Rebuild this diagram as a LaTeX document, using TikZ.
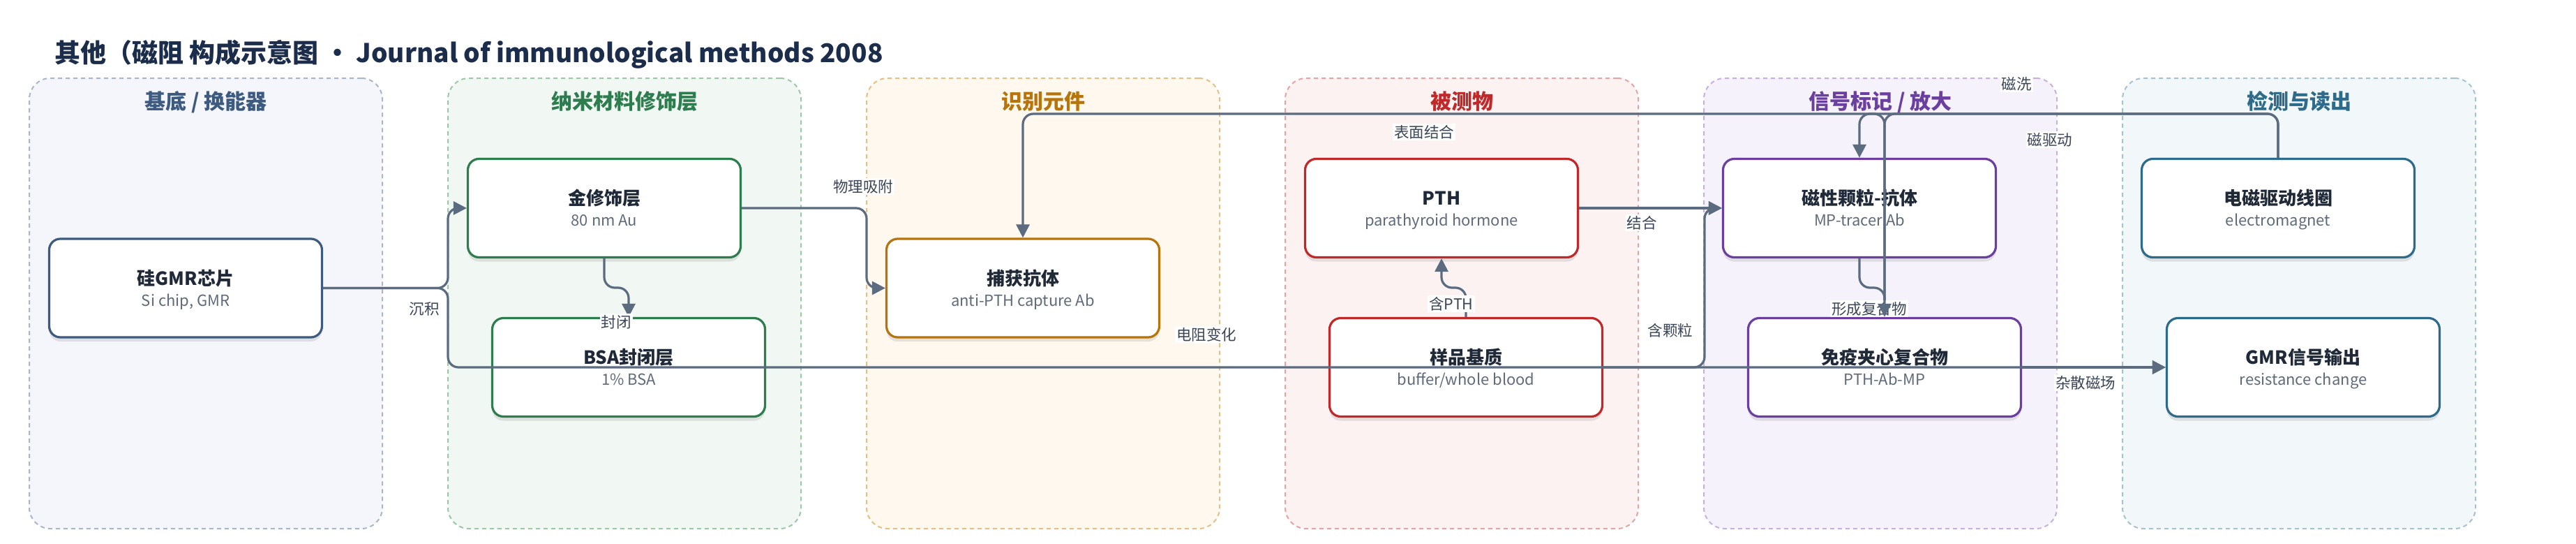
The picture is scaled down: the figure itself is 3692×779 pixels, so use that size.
\documentclass[tikz,border=0pt]{standalone}
\usepackage{fontspec}
\setmainfont{Noto Sans CJK SC}
\usetikzlibrary{arrows.meta,shadows}

\definecolor{ink}{HTML}{1B2D4A}
\definecolor{edgec}{HTML}{5B6B80}
\definecolor{lblc}{HTML}{3A4556}
\definecolor{subc}{HTML}{5F6B7A}
\definecolor{ntc}{HTML}{1F2937}
\definecolor{pAf}{HTML}{F4F6FB}\definecolor{pAd}{HTML}{A9B6CA}\definecolor{pAt}{HTML}{3D5A80}
\definecolor{pBf}{HTML}{F1F8F3}\definecolor{pBd}{HTML}{9CC8A8}\definecolor{pBt}{HTML}{2E7D4F}
\definecolor{pCf}{HTML}{FEF8EE}\definecolor{pCd}{HTML}{E5C084}\definecolor{pCt}{HTML}{B8740A}
\definecolor{pDf}{HTML}{FDF2F2}\definecolor{pDd}{HTML}{E6A3A3}\definecolor{pDt}{HTML}{C0282A}
\definecolor{pEf}{HTML}{F6F2FB}\definecolor{pEd}{HTML}{C6B0E0}\definecolor{pEt}{HTML}{6B3FA0}
\definecolor{pFf}{HTML}{F2F7F9}\definecolor{pFd}{HTML}{A5C2CE}\definecolor{pFt}{HTML}{2E6B8A}

\tikzset{
  panelbox/.style={rounded corners=30pt, dash pattern=on 6pt off 5pt, line width=2pt,
    minimum width=506pt, minimum height=645pt, inner sep=0pt},
  ptitle/.style={font=\fontsize{30}{36}\selectfont\bfseries, anchor=base, inner sep=0pt},
  nbox/.style={draw=#1, fill=white, line width=3.2pt, rounded corners=16pt,
    minimum width=391pt, minimum height=141pt, inner sep=0pt,
    drop shadow={shadow xshift=0pt, shadow yshift=-6pt, opacity=0.16, fill=black!60}},
  ntitle/.style={font=\fontsize{26}{30}\selectfont\bfseries, text=ntc, anchor=base, inner sep=0pt},
  nsub/.style={font=\fontsize{22}{26}\selectfont, text=subc, anchor=base, inner sep=0pt},
  edge/.style={draw=edgec, line width=3.2pt, rounded corners=15pt,
    -{Triangle[length=19pt,width=19pt]}},
  elabel/.style={fill=white, inner sep=2pt, font=\fontsize{21.5}{24}\selectfont, text=lblc}
}

\begin{document}
\begin{tikzpicture}[x=1pt,y=-1pt]
\useasboundingbox (0,0) rectangle (3692,779);

% title
\node[anchor=base west, font=\fontsize{37}{44}\selectfont\bfseries, text=ink, inner sep=0pt] (title) at (78,89)
  {其他（磁阻 构成示意图 · Journal of immunological methods 2008};

% panels
\node[panelbox, fill=pAf, draw=pAd] (P1) at (295,434.5) {};
\node[panelbox, fill=pBf, draw=pBd] (P2) at (895,434.5) {};
\node[panelbox, fill=pCf, draw=pCd] (P3) at (1495,434.5) {};
\node[panelbox, fill=pDf, draw=pDd] (P4) at (2095,434.5) {};
\node[panelbox, fill=pEf, draw=pEd] (P5) at (2695,434.5) {};
\node[panelbox, fill=pFf, draw=pFd] (P6) at (3295,434.5) {};
\node[ptitle, text=pAt] (P1t) at (295,156.5) {基底 / 换能器};
\node[ptitle, text=pBt] (P2t) at (895,156.5) {纳米材料修饰层};
\node[ptitle, text=pCt] (P3t) at (1495,156.5) {识别元件};
\node[ptitle, text=pDt] (P4t) at (2095,156.5) {被测物};
\node[ptitle, text=pEt] (P5t) at (2695,156.5) {信号标记 / 放大};
\node[ptitle, text=pFt] (P6t) at (3295,156.5) {检测与读出};

% nodes
\node[nbox=pAt] (si) at (266,412.5) {};
\node[ntitle] (siT) at (266,408) {硅GMR芯片};
\node[nsub] (siS) at (266,438) {Si chip, GMR};

\node[nbox=pBt] (au) at (866,298) {};
\node[ntitle] (auT) at (866,293.5) {金修饰层};
\node[nsub] (auS) at (866,323.5) {80 nm Au};

\node[nbox=pBt] (bsa) at (901,526) {};
\node[ntitle] (bsaT) at (901,521.5) {BSA封闭层};
\node[nsub] (bsaS) at (901,551.5) {1\% BSA};

\node[nbox=pCt] (cap) at (1466,412.5) {};
\node[ntitle] (capT) at (1466,408) {捕获抗体};
\node[nsub] (capS) at (1466,438) {anti-PTH capture Ab};

\node[nbox=pDt] (pth) at (2066,298) {};
\node[ntitle] (pthT) at (2066,293.5) {PTH};
\node[nsub] (pthS) at (2066,323.5) {parathyroid hormone};

\node[nbox=pDt] (samp) at (2101,526) {};
\node[ntitle] (sampT) at (2101,521.5) {样品基质};
\node[nsub] (sampS) at (2101,551.5) {buffer/whole blood};

\node[nbox=pEt] (mp) at (2665,298) {};
\node[ntitle] (mpT) at (2665,293.5) {磁性颗粒-抗体};
\node[nsub] (mpS) at (2665,323.5) {MP-tracer Ab};

\node[nbox=pEt] (imm) at (2701,526) {};
\node[ntitle] (immT) at (2701,521.5) {免疫夹心复合物};
\node[nsub] (immS) at (2701,551.5) {PTH-Ab-MP};

\node[nbox=pFt] (coil) at (3265,298) {};
\node[ntitle] (coilT) at (3265,293.5) {电磁驱动线圈};
\node[nsub] (coilS) at (3265,323.5) {electromagnet};

\node[nbox=pFt] (out) at (3301,526) {};
\node[ntitle] (outT) at (3301,521.5) {GMR信号输出};
\node[nsub] (outS) at (3301,551.5) {resistance change};

% edges
\draw[edge] (si.east) -| (642,298) -- (au.west);
\draw[edge] (si.east) -| (642,526) -- (out.west);
\draw[edge] (au.south) -- (866,412) -| (bsa.north);
\draw[edge] (au.east) -| (1242,412.5) -- (cap.west);
\draw[edge] (samp.north) -- (2101,412) -| (pth.south);
\draw[edge] (pth.east) -- (mp.west);
\draw[edge] (samp.east) -| (2443,298) -- (mp.west);
\draw[edge] (mp.south) -- (2665,412) -| (imm.north);
\draw[edge] (coil.north) |- (2665,163) -- (mp.north);
\draw[edge] (imm.north) |- (1466,163) -- (cap.north);
\draw[edge] (imm.east) -- (out.west);

% edge labels
\node[elabel, anchor=east] (l1) at (632,442) {沉积};
\node[elabel] (l2) at (883,461) {封闭};
\node[elabel] (l3) at (1237,267) {物理吸附};
\node[elabel] (l4) at (1729,479) {电阻变化};
\node[elabel] (l5) at (2041,189) {表面结合};
\node[elabel] (l6) at (2080,435) {含PTH};
\node[elabel] (l7) at (2353,319) {结合};
\node[elabel] (l8) at (2394,473) {含颗粒};
\node[elabel] (l9) at (2679,442) {形成复合物};
\node[elabel] (l10) at (2938,200) {磁驱动};
\node[elabel] (l11) at (2989,548) {杂散磁场};

\draw[edge] (coil.north) |- (2701,163) -- (imm.north);
\node[elabel] (l12) at (2890,120) {磁洗};
\end{tikzpicture}
\end{document}
